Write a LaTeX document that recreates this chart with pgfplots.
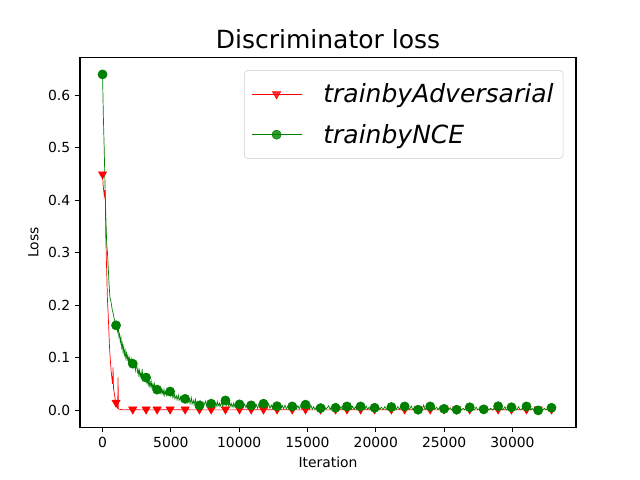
\documentclass[border=0pt]{standalone}
\usepackage{pgfplots}
\pgfplotsset{compat=1.18}
\usepackage{fontspec}
\setmainfont{DejaVu Sans}
\definecolor{mplred}{rgb}{1,0,0}
\definecolor{mplgreen}{rgb}{0,0.5,0}
\pgfplotsset{
  legline/.style={legend image code/.code={\draw[#1, line width=0.5pt] (0pt,0pt) -- (36pt,0pt);
  \draw[mark repeat=2, mark phase=2, ##1] plot coordinates {(0pt,0pt) (18pt,0pt) (36pt,0pt)};
  \path (49.5pt,0pt);}}
}
\begin{document}
\begin{tikzpicture}
\path[use as bounding box] (-57.6pt,-38.016pt) rectangle (403.2pt,307.584pt);
\begin{axis}[
  scale only axis, width=357.12pt, height=266.11pt,
  at={(0pt,0pt)}, anchor=south west,
  xmin=-1650, xmax=34650, ymin=-0.032, ymax=0.672,
  xtick={0,5000,10000,15000,20000,25000,30000},
  ytick={0,0.1,0.2,0.3,0.4,0.5,0.6},
  scaled x ticks=false,
  xticklabel style={/pgf/number format/1000 sep=},
  yticklabel style={/pgf/number format/.cd, fixed, fixed zerofill, precision=1},
  /pgf/number format/assume math mode=true,
  tick align=outside, tick pos=left, major tick length=3.5pt,
  every tick/.style={black, line width=0.8pt},
  tick label style={font=\fontsize{10}{12}\selectfont},
  axis line style={line width=0.8pt},
  title={Discriminator loss},
  title style={font=\fontsize{18}{22}\selectfont, at={(axis description cs:0.5,1)}, anchor=base, yshift=0.3pt},
  xlabel={Iteration}, ylabel={Loss},
  label style={font=\fontsize{10}{12}\selectfont},
  legend style={at={(axis description cs:1,1)}, anchor=north east, xshift=-9pt, yshift=-9pt,
    draw=black!20, rounded corners=2.5pt, fill=white, fill opacity=0.8, text opacity=1,
    font=\fontsize{18}{21.6}\selectfont\itshape, inner xsep=5pt, inner ysep=7.5pt, row sep=10pt},
  legend cell align=left,
]
% red line
\addplot[mplred, line width=0.5pt, no marks, forget plot] coordinates {
(0,0.45) (40,0.43) (80,0.42) (120,0.41) (160,0.42) (205,0.40) (240,0.33) (280,0.287) (320,0.25) (360,0.21)
(400,0.19) (450,0.16) (510,0.12) (570,0.096) (630,0.075) (700,0.057) (740,0.05) (770,0.082) (800,0.042)
(865,0.032) (930,0.02) (989,0.015) (1060,0.006) (1110,0.004) (1135,0.063) (1160,0.003) (1250,0.002)
(1400,0.0015) (1600,0.001) (2000,0.0012) (3000,0.001) (5000,0.0011) (8000,0.001) (12000,0.0011)
(16000,0.001) (20000,0.0012) (25000,0.001) (30000,0.0011) (33000,0.001)
};
\addplot[only marks, mark=triangle*, mark size=3.4pt, mark options={rotate=180, fill=mplred, draw=mplred},
  legline=mplred] coordinates {
(0,0.45) (989,0.015) (2212,0.002) (3187,0.002) (3993,0.002) (4945,0.002) (6044,0.002) (7091,0.002)
(7949,0.002) (8996,0.002) (10022,0.002) (10879,0.002) (11780,0.002) (12770,0.002) (13883,0.002)
(14857,0.002) (15956,0.002) (17055,0.002) (17890,0.002) (18886,0.002) (19912,0.002) (21136,0.002)
(22110,0.002) (23092,0.002) (23980,0.002) (24996,0.002) (25919,0.002) (26872,0.002) (27897,0.002)
(28952,0.002) (29927,0.002) (31026,0.002) (31883,0.002) (32857,0.002)
};
\addlegendentry{trainbyAdversarial}
% green line
\addplot[mplgreen, line width=0.5pt, no marks, forget plot] coordinates {
(0,0.64) (60,0.56) (120,0.50) (180,0.43) (240,0.37) (300,0.32) (360,0.30) (420,0.27) (480,0.24) (540,0.215)
(600,0.21) (660,0.20) (720,0.19) (780,0.185) (850,0.175) (920,0.168) (989,0.162) (1050,0.165) (1100,0.15)
(1150,0.158) (1200,0.14) (1250,0.145) (1300,0.13) (1350,0.138) (1400,0.12) (1450,0.127) (1500,0.112)
(1550,0.121) (1600,0.106) (1650,0.114) (1700,0.100) (1750,0.109) (1800,0.097) (1850,0.104) (1900,0.092)
(1950,0.101) (2000,0.094) (2100,0.099) (2150,0.088) (2212,0.089) (2300,0.083) (2350,0.09)
(2400,0.076) (2450,0.083) (2500,0.088) (2550,0.073) (2600,0.078) (2650,0.068) (2700,0.076) (2750,0.064)
(2800,0.070) (2850,0.062) (2900,0.079) (2950,0.060) (3000,0.067) (3100,0.058) (3187,0.0625) (3250,0.052)
(3300,0.058) (3350,0.049) (3400,0.060) (3450,0.047) (3500,0.053) (3550,0.044) (3600,0.054) (3650,0.043)
(3700,0.049) (3750,0.041) (3800,0.050) (3850,0.038) (3900,0.044) (3993,0.0395) (4050,0.046) (4100,0.036)
(4200,0.043) (4250,0.034) (4300,0.040) (4350,0.032) (4400,0.038) (4450,0.031) (4500,0.040) (4550,0.029)
(4600,0.035) (4700,0.028) (4750,0.036) (4800,0.030) (4945,0.036) (5000,0.027) (5100,0.032) (5150,0.024)
(5250,0.031) (5300,0.022) (5400,0.028) (5450,0.020) (5550,0.029) (5600,0.019) (5700,0.026) (5750,0.018)
(5850,0.027) (5950,0.017) (6044,0.022) (6100,0.016) (6200,0.025) (6250,0.015) (6350,0.021) (6400,0.013)
(6500,0.024) (6550,0.012) (6650,0.019) (6700,0.011) (6800,0.021) (6850,0.010) (6950,0.017) (7091,0.0095)
(7150,0.018) (7250,0.010) (7350,0.016) (7400,0.009) (7550,0.018) (7600,0.008) (7700,0.015) (7800,0.008)
(7949,0.0128) (8050,0.017) (8100,0.008) (8250,0.015) (8300,0.007) (8400,0.017) (8450,0.008) (8550,0.014)
(8600,0.007) (8700,0.015) (8800,0.007) (8850,0.013) (8996,0.019) (9050,0.009) (9150,0.015) (9250,0.007)
(9300,0.016) (9400,0.007) (9450,0.013) (9550,0.006) (9600,0.014) (9700,0.006) (9800,0.012) (9900,0.006)
(10022,0.0115) (10100,0.005) (10200,0.015) (10300,0.006) (10400,0.012) (10500,0.005) (10600,0.013)
(10700,0.005) (10879,0.0096) (10950,0.005) (11050,0.014) (11150,0.005) (11250,0.011) (11350,0.004)
(11450,0.012) (11550,0.004) (11600,0.010) (11700,0.004) (11780,0.0128) (11850,0.004) (11950,0.011)
(12050,0.004) (12150,0.013) (12250,0.004) (12350,0.010) (12450,0.003) (12550,0.011) (12650,0.004)
(12770,0.008) (12850,0.003) (12950,0.011) (13050,0.003) (13150,0.009) (13250,0.003) (13350,0.010)
(13450,0.003) (13600,0.009) (13700,0.003) (13883,0.0076) (13950,0.003) (14100,0.012) (14200,0.003)
(14300,0.009) (14400,0.003) (14500,0.010) (14600,0.002) (14700,0.008) (14857,0.011) (14950,0.003)
(15050,0.009) (15150,0.002) (15250,0.010) (15350,0.002) (15450,0.007) (15550,0.002) (15700,0.008)
(15800,0.002) (15956,0.0044) (16050,0.008) (16150,0.002) (16250,0.008) (16350,0.002) (16550,0.009)
(16650,0.002) (16800,0.007) (16900,0.002) (17055,0.005) (17150,0.002) (17250,0.009) (17350,0.002)
(17450,0.007) (17550,0.002) (17650,0.007) (17750,0.002) (17890,0.0076) (17950,0.002) (18100,0.007)
(18200,0.002) (18300,0.008) (18400,0.002) (18500,0.007) (18600,0.002) (18700,0.009) (18800,0.002)
(18886,0.0076) (18950,0.002) (19100,0.007) (19200,0.002) (19300,0.008) (19400,0.002) (19500,0.006)
(19600,0.002) (19700,0.007) (19800,0.002) (19912,0.005) (20050,0.002) (20150,0.008) (20300,0.002)
(20400,0.006) (20550,0.002) (20650,0.007) (20800,0.002) (20900,0.006) (21000,0.002) (21136,0.0064)
(21250,0.002) (21350,0.009) (21500,0.002) (21600,0.007) (21750,0.002) (21850,0.011) (21950,0.002)
(22110,0.0076) (22200,0.002) (22350,0.006) (22450,0.002) (22600,0.008) (22700,0.002) (22850,0.006)
(22950,0.001) (23092,0.0013) (23200,0.002) (23300,0.006) (23400,0.002) (23500,0.010) (23600,0.002)
(23750,0.006) (23850,0.002) (23980,0.0076) (24100,0.002) (24200,0.009) (24300,0.002) (24450,0.006)
(24550,0.001) (24700,0.007) (24800,0.001) (24996,0.003) (25100,0.001) (25200,0.006) (25300,0.001)
(25450,0.005) (25550,0.001) (25700,0.005) (25800,0.001) (25919,0.0013) (26050,0.001) (26150,0.005)
(26250,0.001) (26400,0.004) (26500,0.001) (26650,0.006) (26750,0.001) (26872,0.006) (27000,0.001)
(27100,0.004) (27200,0.001) (27350,0.006) (27450,0.001) (27600,0.004) (27700,0.001) (27897,0.002)
(28000,0.001) (28150,0.005) (28250,0.001) (28400,0.004) (28550,0.001) (28700,0.006) (28800,0.001)
(28952,0.008) (29050,0.001) (29200,0.005) (29300,0.001) (29450,0.007) (29550,0.001) (29700,0.004)
(29800,0.001) (29927,0.006) (30050,0.001) (30200,0.005) (30300,0.001) (30450,0.007) (30550,0.001)
(30750,0.004) (30850,0.001) (31026,0.0076) (31150,0.001) (31250,0.005) (31350,0.001) (31450,0.004)
(31550,0.001) (31650,0.006) (31750,0.001) (31883,0.0) (32000,0.002) (32100,0.005) (32200,0.001)
(32350,0.004) (32450,0.001) (32600,0.005) (32700,0.001) (32857,0.005) (33000,0.004)
};
\addplot[only marks, mark=*, mark size=3.3pt, mark options={fill=mplgreen, draw=mplgreen},
  legline=mplgreen] coordinates {
(0,0.64) (989,0.162) (2212,0.089) (3187,0.0625) (3993,0.0395) (4945,0.036) (6044,0.022) (7091,0.0095)
(7949,0.0128) (8996,0.019) (10022,0.0115) (10879,0.0096) (11780,0.0128) (12770,0.008) (13883,0.0076)
(14857,0.011) (15956,0.0044) (17055,0.005) (17890,0.0076) (18886,0.0076) (19912,0.005) (21136,0.0064)
(22110,0.0076) (23092,0.0013) (23980,0.0076) (24996,0.003) (25919,0.0013) (26872,0.006) (27897,0.002)
(28952,0.008) (29927,0.006) (31026,0.0076) (31883,0.0) (32857,0.005)
};
\addlegendentry{trainbyNCE}
\end{axis}
\end{tikzpicture}
\end{document}
